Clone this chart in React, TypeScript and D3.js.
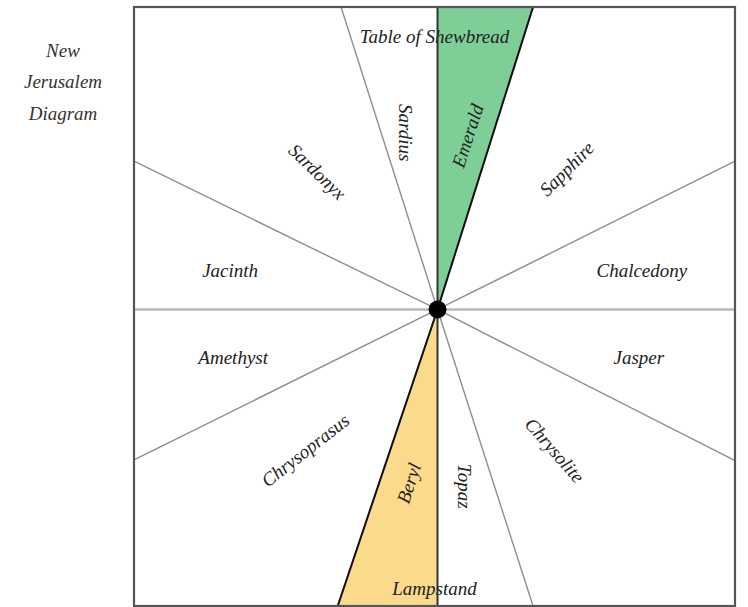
import React from 'react';
import { scaleLinear, line } from 'd3';

// ray end points on the frame, data units (centre near 0,0)
const centre: [number, number] = [0.01, -0.01];
const rayEnds: [number, number][] = [
  [-0.311, 1], [0.328, 1],
  [1, 0.485], [1, -0.515],
  [0.328, -1], [-0.322, -1],
  [-1, -0.512], [-1, 0.485],
];
const horizontalEnds: [number, number][] = [[-1, -0.01], [1, -0.01]];
const verticalEnds: [number, number][] = [[0.01, 1], [0.01, -1]];

// highlighted sectors
const wedgeNames = ['Emerald', 'Beryl'];
const wedgeEnds: [number, number][][] = [
  [[0.01, 1], [0.328, 1]],
  [[-0.322, -1], [0.01, -1]],
];
const wedgeColors = ['#7ecf97', '#fbda8c'];

const gemNames = [
  'Table of Shewbread', 'Sardius', 'Emerald', 'Sardonyx', 'Sapphire',
  'Jacinth', 'Chalcedony', 'Amethyst', 'Jasper', 'Chrysoprasus',
  'Chrysolite', 'Beryl', 'Topaz', 'Lampstand',
];
const labelX = [0.0, -0.095, 0.11, -0.39, 0.44, -0.68, 0.69, -0.67, 0.68, -0.43, 0.40, -0.085, 0.1, 0.0];
const labelY = [0.9, 0.58, 0.57, 0.45, 0.46, 0.12, 0.12, -0.17, -0.17, -0.48, -0.48, -0.59, -0.6, -0.94];
const labelAngle = [0, 90, -72, 44, -45, 0, 0, 0, 0, -38, 49, -72, 90, 0];

const titleLines = ['New', 'Jerusalem', 'Diagram'];

const W = 748;
const H = 607;

export default function App() {
  const x = scaleLinear().domain([-1, 1]).range([134, 735]);
  const y = scaleLinear().domain([-1, 1]).range([606, 7]);
  const path = line<[number, number]>().x(d => x(d[0])).y(d => y(d[1]));
  const font = { fontFamily: '"Liberation Serif", serif', fontStyle: 'italic' as const };

  return (
    <svg width={W} height={H} style={{ position: 'absolute', left: 0, top: 0, background: '#fff' }}>
      {/* wedge fills */}
      {wedgeEnds.map((ends, i) => (
        <path key={wedgeNames[i]} d={path([centre, ends[0], ends[1]])! + 'Z'} fill={wedgeColors[i]} stroke="none" />
      ))}
      {/* rays */}
      {rayEnds.map((e, i) => (
        <path key={i} d={path([centre, e])!} stroke="#8f8f8f" strokeWidth={1.4} fill="none" />
      ))}
      <path d={path(horizontalEnds)!} stroke="#b8b8b8" strokeWidth={2.4} fill="none" />

      {/* labels */}
      {gemNames.map((name, i) => (
        <text
          key={name}
          transform={`translate(${x(labelX[i])},${y(labelY[i])}) rotate(${labelAngle[i]})`}
          textAnchor="middle"
          dominantBaseline="central"
          fontSize={19}
          fill="#222"
          {...font}
        >
          {name}
        </text>
      ))}

      {/* wedge outer edges and the vertical axis */}
      <path d={path([centre, wedgeEnds[0][1]])!} stroke="#111" strokeWidth={2} fill="none" />
      <path d={path([centre, wedgeEnds[1][0]])!} stroke="#111" strokeWidth={2} fill="none" />
      <path d={path([verticalEnds[0], verticalEnds[1]])!} stroke="#333" strokeWidth={2} fill="none" />

      {/* frame */}
      <rect x={x(-1)} y={y(1)} width={x(1) - x(-1)} height={y(-1) - y(1)} fill="none" stroke="#555" strokeWidth={2.2} />

      <circle cx={x(centre[0])} cy={y(centre[1])} r={9} fill="#000" />

      {titleLines.map((t, i) => (
        <text key={t} x={63} y={50 + i * 31.5} textAnchor="middle" dominantBaseline="central" fontSize={19} fill="#333" {...font}>
          {t}
        </text>
      ))}
    </svg>
  );
}
